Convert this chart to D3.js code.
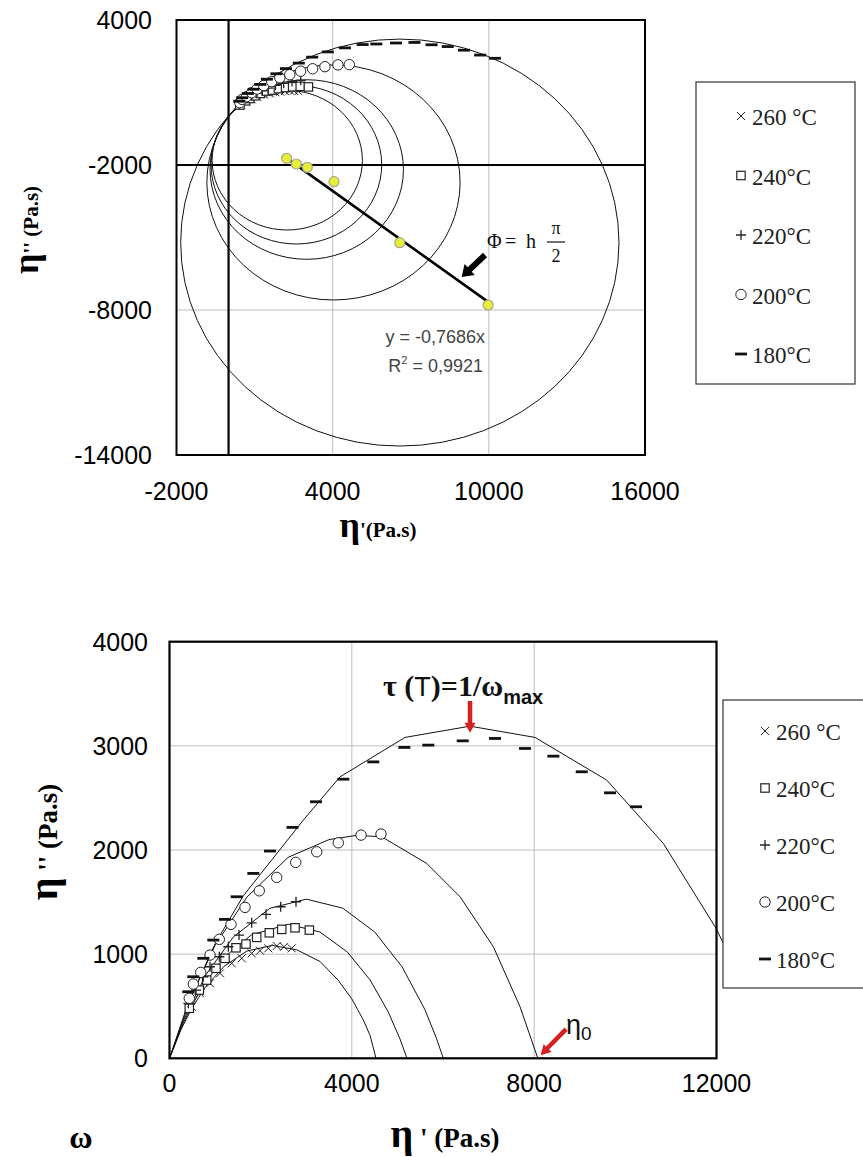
<!DOCTYPE html>
<html><head><meta charset="utf-8">
<script src="https://cdn.jsdelivr.net/npm/d3@7"></script>
<style>body{margin:0;background:#fff}svg{display:block}</style>
</head><body>
<svg id="c" width="863" height="1157"></svg>
<script>
// ---------- DATA ----------
const seriesNames = ["260 °C","240°C","220°C","200°C","180°C"];
const seriesSymbols = ["cross","square","plus","circle","dash"];
// measured points (eta', eta'')
const x260=[487,669,889,1108,1365,1584,1803,1986,2168,2352,2512,2681];
const y260=[495,624,720,816,912,960,1008,1033,1056,1078,1071,1056];
const x240=[434,654,816,1020,1218,1459,1678,1913,2190,2462,2754,3068];
const y240=[480,655,751,864,960,1061,1097,1161,1205,1238,1253,1231];
const x220=[413,581,742,889,1093,1291,1525,1803,2117,2439,2775];
const y220=[528,655,783,879,975,1071,1183,1301,1382,1455,1503];
const x200=[434,522,685,889,1093,1349,1657,1970,2352,2769,3230,3703,4202,4640];
const y200=[576,713,825,991,1142,1286,1449,1608,1737,1881,1983,2069,2143,2153];
const x180=[412,522,742,961,1218,1474,1839,2205,2699,3214,3813,4471,5152,5678,6433,7142,7800,8421,9044,9665,10235];
const y180=[639,783,960,1135,1334,1551,1775,1990,2217,2463,2680,2846,2985,3007,3048,3071,2975,2901,2751,2549,2415];
// model curves (bottom chart)
const c260x=[0,250,500,800,1200,1700,2255,2800,3300,3700,4000,4250,4400,4530];
const c260y=[0,274,489,691,884,1030,1084,1040,930,750,570,370,220,0];
const c240x=[0,300,700,1200,1800,2606,3300,3900,4400,4800,5050,5210];
const c240y=[0,339,676,970,1186,1287,1213,1021,753,444,193,0];
const c220x=[0,300,800,1400,2200,3004,3800,4500,5100,5600,5850,6007];
const c220y=[0,360,803,1164,1440,1528,1442,1213,880,470,200,0];
const c200x=[0,400,1000,1700,2600,3500,4100,4655,5643,6374,7105,7690,8080];
const c200y=[0,518,1084,1549,1929,2100,2140,2127,1871,1551,1071,495,0];
const c180x=[0,500,1000,1619,2936,3741,5167,6593,8019,9592,10834,11990,12150];
const c180y=[0,615,1100,1560,2287,2702,3081,3189,3081,2671,2063,1248,1104];
// fitted circles (top chart)
const circleCx=[2255,2606,3004,4031,6580];
const circleCy=[-1803,-1991,-2187,-2721,-5210];
const circleR=[2887,3278,3715,4865,8420];
// circle centres (yellow) and linear fit
const centreX=[2231,2604,3027,4050,6577,9973];
const centreY=[-1723,-1959,-2095,-2691,-5215,-7793];
const fitSlope=-0.7686;
const fitRange=[2231,9973];
// axis ticks
const topXTicks=[-2000,4000,10000,16000];
const topYTicks=[4000,-2000,-8000,-14000];
const botXTicks=[0,4000,8000,12000];
const botYTicks=[0,1000,2000,3000,4000];

const pts=[[x260,y260],[x240,y240],[x220,y220],[x200,y200],[x180,y180]];
const curves=[[c260x,c260y],[c240x,c240y],[c220x,c220y],[c200x,c200y],[c180x,c180y]];

const svg=d3.select("#c");
const SANS="'Liberation Sans', Arial, sans-serif";
const SERIF="'Liberation Serif','Times New Roman', serif";

function marker(g,type,px,py){
  if(type==="cross"){
    const s=4;
    g.append("path").attr("d",`M${px-s},${py-s}L${px+s},${py+s}M${px-s},${py+s}L${px+s},${py-s}`).attr("stroke","#222").attr("stroke-width",1);
  }else if(type==="square"){
    g.append("rect").attr("x",px-4.2).attr("y",py-4.2).attr("width",8.4).attr("height",8.4).attr("fill","#fff").attr("stroke","#222").attr("stroke-width",1.2);
  }else if(type==="plus"){
    const s=5;
    g.append("path").attr("d",`M${px-s},${py}L${px+s},${py}M${px},${py-s}L${px},${py+s}`).attr("stroke","#222").attr("stroke-width",1.3);
  }else if(type==="circle"){
    g.append("circle").attr("cx",px).attr("cy",py).attr("r",5.2).attr("fill","#fff").attr("stroke","#222").attr("stroke-width",1);
  }else if(type==="dash"){
    g.append("path").attr("d",`M${px-6},${py}L${px+6},${py}`).attr("stroke","#111").attr("stroke-width",2.8);
  }
}
function arrow(g,x1,y1,x2,y2,shaft,headW,headL,color){
  const dx=x2-x1,dy=y2-y1,L=Math.hypot(dx,dy),ux=dx/L,uy=dy/L,nx=-uy,ny=ux;
  const bx0=x2-ux*headL,by0=y2-uy*headL;
  const p=[[x1+nx*shaft/2,y1+ny*shaft/2],[bx0+nx*shaft/2,by0+ny*shaft/2],[bx0+nx*headW/2,by0+ny*headW/2],[x2,y2],
    [bx0-nx*headW/2,by0-ny*headW/2],[bx0-nx*shaft/2,by0-ny*shaft/2],[x1-nx*shaft/2,y1-ny*shaft/2]];
  g.append("path").attr("d","M"+p.map(q=>q.join(",")).join("L")+"Z").attr("fill",color);
}

// ================= TOP CHART =================
const tx=d3.scaleLinear().domain([-2000,16000]).range([176.5,645]);
const ty=d3.scaleLinear().domain([-14000,4000]).range([455,20]);
const gTop=svg.append("g");
gTop.selectAll(".gx").data([4000,10000]).enter().append("line")
  .attr("x1",d=>tx(d)).attr("x2",d=>tx(d)).attr("y1",ty(4000)).attr("y2",ty(-14000))
  .attr("stroke","#bdbdbd").attr("stroke-width",1);
gTop.selectAll(".gy").data([-8000]).enter().append("line")
  .attr("y1",d=>ty(d)).attr("y2",d=>ty(d)).attr("x1",tx(-2000)).attr("x2",tx(16000))
  .attr("stroke","#bdbdbd").attr("stroke-width",1);
gTop.append("line").attr("x1",tx(0)).attr("x2",tx(0)).attr("y1",ty(4000)).attr("y2",ty(-14000)).attr("stroke","#000").attr("stroke-width",2.2);
gTop.append("line").attr("y1",ty(-2000)).attr("y2",ty(-2000)).attr("x1",tx(-2000)).attr("x2",tx(16000)).attr("stroke","#000").attr("stroke-width",2.2);
circleCx.forEach((cx,i)=>{
  gTop.append("ellipse").attr("cx",tx(cx)).attr("cy",ty(circleCy[i]))
    .attr("rx",tx(cx+circleR[i])-tx(cx)).attr("ry",ty(circleCy[i]-circleR[i])-ty(circleCy[i]))
    .attr("fill","none").attr("stroke","#111").attr("stroke-width",1);
});
gTop.append("line").attr("x1",tx(fitRange[0])).attr("y1",ty(fitSlope*fitRange[0]))
  .attr("x2",tx(fitRange[1])).attr("y2",ty(fitSlope*fitRange[1]))
  .attr("stroke","#000").attr("stroke-width",2.6);
centreX.forEach((cx,i)=>{
  gTop.append("circle").attr("cx",tx(cx)).attr("cy",ty(centreY[i])).attr("r",5)
    .attr("fill","#e6ee3a").attr("stroke","#a8a890").attr("stroke-width",1.2);
});
pts.forEach((p,si)=>{
  const g=gTop.append("g");
  p[0].forEach((xv,i)=>marker(g,seriesSymbols[si],tx(xv),ty(p[1][i])));
});
gTop.append("rect").attr("x",tx(-2000)).attr("y",ty(4000)).attr("width",tx(16000)-tx(-2000)).attr("height",ty(-14000)-ty(4000))
  .attr("fill","none").attr("stroke","#000").attr("stroke-width",2);
gTop.selectAll(".ylab").data(topYTicks).enter().append("text")
  .attr("x",152).attr("y",d=>ty(d)+9).attr("text-anchor","end")
  .attr("font-family",SANS).attr("font-size",25).text(d=>d);
gTop.selectAll(".xlab").data(topXTicks).enter().append("text")
  .attr("x",d=>tx(d)).attr("y",500).attr("text-anchor","middle")
  .attr("font-family",SANS).attr("font-size",25).text(d=>d);
const tyt=gTop.append("text").attr("transform","translate(38,230) rotate(-90)").attr("text-anchor","middle")
  .attr("font-family",SERIF).attr("font-weight","bold");
tyt.append("tspan").attr("font-size",36).text("η");
tyt.append("tspan").attr("font-size",21).text("'' (Pa.s)");
const txt=gTop.append("text").attr("x",378).attr("y",537).attr("text-anchor","middle")
  .attr("font-family",SERIF).attr("font-weight","bold");
txt.append("tspan").attr("font-size",36).text("η");
txt.append("tspan").attr("font-size",21).text("'(Pa.s)");
gTop.append("text").attr("x",485).attr("y",343).attr("text-anchor","end").attr("font-family",SANS)
  .attr("font-size",18).attr("fill","#444").text("y = -0,7686x");
const r2=gTop.append("text").attr("x",483).attr("y",372).attr("text-anchor","end").attr("font-family",SANS)
  .attr("font-size",18).attr("fill","#444");
r2.append("tspan").text("R");
r2.append("tspan").attr("font-size",11).attr("dy",-8).text("2");
r2.append("tspan").attr("dy",8).text(" = 0,9921");
gTop.append("text").attr("x",487).attr("y",248).attr("font-family",SERIF).attr("font-size",20).attr("fill","#111").text("Φ");
gTop.append("text").attr("x",505).attr("y",248).attr("font-family",SERIF).attr("font-size",20).attr("fill","#111").text("=");
gTop.append("text").attr("x",526).attr("y",248).attr("font-family",SERIF).attr("font-size",20).attr("fill","#111").text("h");
gTop.append("text").attr("x",556).attr("y",234).attr("text-anchor","middle").attr("font-family",SERIF).attr("font-size",18).attr("fill","#111").text("π");
gTop.append("line").attr("x1",547).attr("x2",565).attr("y1",242).attr("y2",242).attr("stroke","#111").attr("stroke-width",1.2);
gTop.append("text").attr("x",556).attr("y",262).attr("text-anchor","middle").attr("font-family",SERIF).attr("font-size",18).attr("fill","#111").text("2");
arrow(gTop,tx(9853),ty(-5724),tx(8957),ty(-6635),6,15,11,"#000");
const lt=gTop.append("g");
lt.append("rect").attr("x",696).attr("y",82).attr("width",159).attr("height",302).attr("fill","#fff").attr("stroke","#333").attr("stroke-width",1.2);
seriesNames.forEach((n,i)=>{
  const yy=117+i*59.5;
  marker(lt,seriesSymbols[i],741,yy-1);
  lt.append("text").attr("x",752).attr("y",yy+8).attr("font-family",SERIF).attr("font-size",23).attr("fill","#222").text(n);
});

// ================= BOTTOM CHART =================
const bx=d3.scaleLinear().domain([0,12000]).range([169.5,716.5]);
const by=d3.scaleLinear().domain([0,4000]).range([1058.3,641.7]);
const gBot=svg.append("g");
gBot.selectAll(".gx").data([4000,8000]).enter().append("line")
  .attr("x1",d=>bx(d)).attr("x2",d=>bx(d)).attr("y1",by(0)).attr("y2",by(4000)).attr("stroke","#bdbdbd");
gBot.selectAll(".gy").data([1000,2000,3000]).enter().append("line")
  .attr("y1",d=>by(d)).attr("y2",d=>by(d)).attr("x1",bx(0)).attr("x2",bx(12000)).attr("stroke","#bdbdbd");
const line=d3.line().x(d=>bx(d[0])).y(d=>by(d[1]));
curves.forEach(c=>{
  gBot.append("path").attr("d",line(c[0].map((v,i)=>[v,c[1][i]]))).attr("fill","none").attr("stroke","#111").attr("stroke-width",1);
});
pts.forEach((p,si)=>{
  const g=gBot.append("g");
  p[0].forEach((xv,i)=>marker(g,seriesSymbols[si],bx(xv),by(p[1][i])));
});
gBot.append("rect").attr("x",bx(0)).attr("y",by(4000)).attr("width",bx(12000)-bx(0)).attr("height",by(0)-by(4000))
  .attr("fill","none").attr("stroke","#000").attr("stroke-width",2.2);
gBot.selectAll(".ylab").data(botYTicks).enter().append("text")
  .attr("x",148).attr("y",d=>by(d)+9).attr("text-anchor","end")
  .attr("font-family",SANS).attr("font-size",25).text(d=>d);
gBot.selectAll(".xlab").data(botXTicks).enter().append("text")
  .attr("x",d=>bx(d)).attr("y",1092).attr("text-anchor","middle")
  .attr("font-family",SANS).attr("font-size",25).text(d=>d);
const byt=gBot.append("text").attr("transform","translate(57,842) rotate(-90)").attr("text-anchor","middle")
  .attr("font-family",SERIF).attr("font-weight","bold");
byt.append("tspan").attr("font-size",40).text("η");
byt.append("tspan").attr("font-size",27).text(" '' (Pa.s)");
const bxt=gBot.append("text").attr("x",445).attr("y",1147).attr("text-anchor","middle")
  .attr("font-family",SERIF).attr("font-weight","bold");
bxt.append("tspan").attr("font-size",40).text("η");
bxt.append("tspan").attr("font-size",27).text(" ' (Pa.s)");
gBot.append("text").attr("x",81).attr("y",1148).attr("text-anchor","middle").attr("font-family",SERIF)
  .attr("font-weight","bold").attr("font-size",32).text("ω");
const tau=gBot.append("text").attr("x",383).attr("y",696).attr("font-family",SERIF).attr("font-weight","bold").attr("font-size",30).attr("fill","#111");
tau.append("tspan").text("τ (");
tau.append("tspan").attr("font-family",SANS).attr("font-weight","normal").attr("font-size",27).text("T");
tau.append("tspan").text(")=1/ω");
tau.append("tspan").attr("font-family",SANS).attr("font-size",20).attr("dy",8).text("max");
arrow(gBot,bx(6593),by(3430),bx(6593),by(3125),4.5,11,10,"#d42020");
arrow(gBot,bx(8700),by(280),bx(8140),by(30),4.5,11,10,"#d42020");
const e0=gBot.append("text").attr("x",566).attr("y",1034).attr("font-family",SANS).attr("font-size",27).attr("fill","#111");
e0.append("tspan").text("η");
e0.append("tspan").attr("font-size",19).attr("dy",6).text("0");
const lb=gBot.append("g");
lb.append("rect").attr("x",723).attr("y",700).attr("width",142).attr("height",288).attr("fill","#fff").attr("stroke","#333").attr("stroke-width",1.2);
seriesNames.forEach((n,i)=>{
  const yy=732+i*57;
  marker(lb,seriesSymbols[i],765,yy-1);
  lb.append("text").attr("x",776).attr("y",yy+8).attr("font-family",SERIF).attr("font-size",23).attr("fill","#222").text(n);
});
</script>
</body></html>
